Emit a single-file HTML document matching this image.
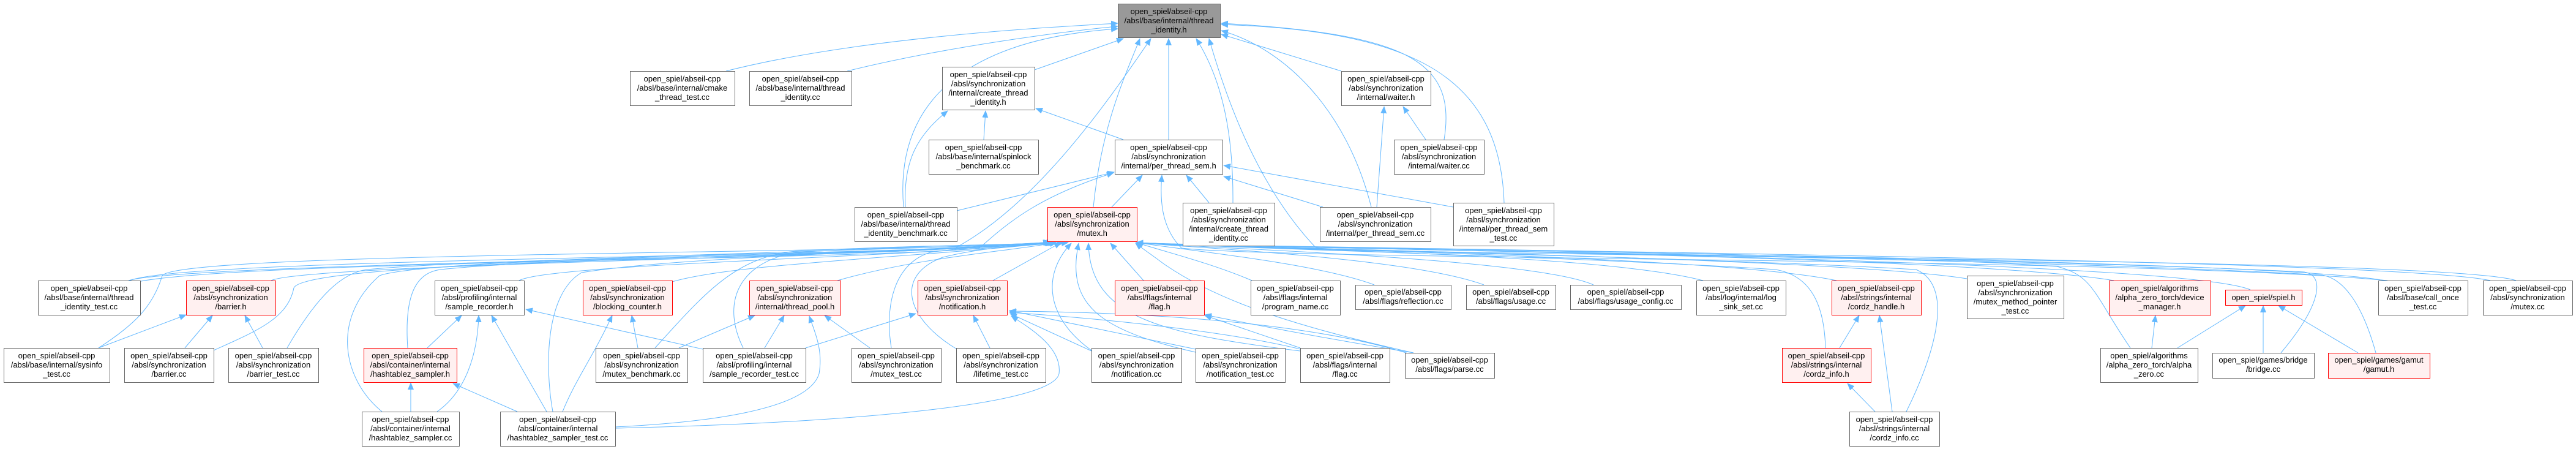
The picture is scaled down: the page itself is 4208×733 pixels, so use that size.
<!DOCTYPE html>
<html><head><meta charset="utf-8"><style>
html,body{margin:0;padding:0;background:#fff;}
svg{display:block;}
text{font-family:"Liberation Sans",Arial,sans-serif;font-size:13px;fill:#000;text-anchor:middle;}
.n{fill:#fff;stroke:#666;stroke-width:1;}
.r{fill:#fff0f0;stroke:#ff0000;stroke-width:1;}
.g{fill:#999;stroke:#666;stroke-width:1;}
.e{fill:none;stroke:#63b8ff;stroke-width:1;marker-end:url(#a);}
</style></head><body>
<svg width="4208" height="733" viewBox="0 0 4208 733" xmlns="http://www.w3.org/2000/svg">
<defs><marker id="a" markerWidth="12" markerHeight="10" refX="11" refY="5" orient="auto" markerUnits="userSpaceOnUse"><path d="M0,0 L12,5 L0,10z" fill="#63b8ff"/></marker></defs>

<!-- edges to thread_identity.h -->
<path class="e" d="M1186,116 C1400,62 1700,45 1826,38"/>
<path class="e" d="M1384,116 C1550,75 1750,50 1826,43"/>
<path class="e" d="M1476,338 C1460,150 1600,62 1826,47"/>
<path class="e" d="M1690,114 L1835,63"/>
<path class="e" d="M1786,338 C1800,200 1840,120 1862,63"/>
<path class="e" d="M1909,228 L1909,63"/>
<path class="e" d="M2014,331 C2015,200 1990,120 1954,63"/>
<path class="e" d="M2191,116 L1995,56"/>
<path class="e" d="M2359,228 C2380,100 2300,55 1995,38"/>
<path class="e" d="M2240,338 C2200,180 2100,80 1995,50"/>
<path class="e" d="M2457,331 C2450,120 2300,50 1995,40"/>
<path class="e" d="M4110,458 C4000,420 2400,420 2150,405 C2050,300 2000,150 1975,63"/>
<path class="e" d="M210,458 C300,430 1400,420 1560,405 C1700,330 1820,150 1880,63"/>
<!-- create_thread_identity.h -->
<path class="e" d="M1607,228 L1610,181"/>
<path class="e" d="M1479,338 C1475,260 1500,220 1548,181"/>
<path class="e" d="M1835,228 L1692,177"/>
<!-- per_thread_sem.h -->
<path class="e" d="M1816,338 L1866,286"/>
<path class="e" d="M1563,344 L1820,281"/>
<path class="e" d="M1975,331 L1938,286"/>
<path class="e" d="M2161,338 L1999,288"/>
<path class="e" d="M2374,338 L1999,270"/>
<path class="e" d="M3900,458 C3500,420 2100,425 1930,405 C1895,370 1895,320 1898,286"/>
<path class="e" d="M225,460 C400,425 1400,425 1600,405 C1650,360 1700,320 1819,282"/>
<!-- waiter.h -->
<path class="e" d="M2329,228 L2292,174"/>
<path class="e" d="M2249,338 L2261,174"/>
<!-- mutex.h -->
<path class="e" d="M212,458 C300,420 1500,420 1715,395"/>
<path class="e" d="M161,568 C220,530 250,500 265,450 C290,410 1500,415 1716,395"/>
<path class="e" d="M443,458 C500,430 1500,420 1717,395"/>
<path class="e" d="M349,572 C420,540 470,520 480,470 C500,420 1500,420 1718,396"/>
<path class="e" d="M469,568 C520,480 560,445 600,440 C800,420 1500,415 1719,396"/>
<path class="e" d="M848,458 C900,430 1500,420 1720,396"/>
<path class="e" d="M666,568 C660,480 680,445 720,440 C900,420 1500,415 1720,396"/>
<path class="e" d="M624,672 C560,620 540,520 620,450 C700,420 1500,410 1721,395"/>
<path class="e" d="M903,672 C890,600 890,480 950,445 C1100,420 1500,410 1722,395"/>
<path class="e" d="M1098,460 C1200,430 1500,420 1723,396"/>
<path class="e" d="M1070,568 C1150,480 1200,420 1300,410 C1500,400 1650,400 1724,396"/>
<path class="e" d="M1368,458 C1500,420 1650,410 1726,396"/>
<path class="e" d="M1214,568 C1180,500 1200,430 1300,412 C1500,400 1650,400 1726,396"/>
<path class="e" d="M1622,458 L1733,396"/>
<path class="e" d="M1456,568 C1445,500 1460,430 1520,412 C1600,400 1700,400 1738,396"/>
<path class="e" d="M1563,570 C1480,520 1460,450 1540,420 C1620,400 1700,400 1745,396"/>
<path class="e" d="M1868,458 L1814,397"/>
<path class="e" d="M1783,572 C1710,520 1700,450 1750,397"/>
<path class="e" d="M1953,575 C1800,540 1740,500 1762,397"/>
<path class="e" d="M2124,573 C1900,545 1780,520 1778,397"/>
<path class="e" d="M2309,576 C2150,540 2000,500 1900,430 C1880,415 1865,405 1855,397"/>
<path class="e" d="M2045,458 C1980,430 1900,410 1856,396"/>
<path class="e" d="M2245,465 C2150,430 1950,410 1856,396"/>
<path class="e" d="M2424,465 C2300,420 1950,405 1856,396"/>
<path class="e" d="M2603,465 C2500,420 1950,405 1856,396"/>
<path class="e" d="M2782,458 C2600,410 1950,405 1856,396"/>
<path class="e" d="M3000,458 C2800,415 1950,405 1856,396"/>
<path class="e" d="M2982,568 C2980,500 2960,450 2900,440 C2600,420 2000,405 1856,396"/>
<path class="e" d="M3114,672 C3150,600 3200,470 3130,440 C2800,420 2000,405 1856,396"/>
<path class="e" d="M3213,455 C3000,420 2000,405 1856,396"/>
<path class="e" d="M3453,458 C3200,415 2000,405 1856,396"/>
<path class="e" d="M3676,473 C3550,420 2000,405 1856,396"/>
<path class="e" d="M3480,568 C3420,480 3420,450 3360,435 C3000,410 2000,405 1856,396"/>
<path class="e" d="M3726,576 C3790,500 3800,450 3764,444 C3300,420 2000,405 1856,396"/>
<path class="e" d="M3881,576 C3860,500 3830,455 3793,449 C3300,420 2000,405 1856,396"/>
<path class="e" d="M3895,458 C3700,420 2000,405 1856,396"/>
<path class="e" d="M4068,458 C3900,420 2000,405 1856,396"/>
<!-- barrier.h -->
<path class="e" d="M161,568 L304,514"/>
<path class="e" d="M302,568 L347,515"/>
<path class="e" d="M429,568 L400,515"/>
<!-- sample_recorder.h -->
<path class="e" d="M698,568 L754,515"/>
<path class="e" d="M714,672 C760,640 780,580 782,515"/>
<path class="e" d="M893,672 L803,515"/>
<path class="e" d="M1148,570 L859,505"/>
<!-- hashtablez_sampler.h -->
<path class="e" d="M671,672 L671,625"/>
<path class="e" d="M845,672 L740,626"/>
<!-- blocking_counter.h -->
<path class="e" d="M1042,568 L1032,515"/>
<path class="e" d="M919,672 C940,620 970,580 1000,515"/>
<!-- thread_pool.h -->
<path class="e" d="M1109,568 L1233,515"/>
<path class="e" d="M1249,568 L1281,515"/>
<path class="e" d="M1421,568 L1347,515"/>
<path class="e" d="M1005,697 C1150,690 1320,670 1338,610 C1345,570 1330,540 1322,516"/>
<!-- notification.h -->
<path class="e" d="M1316,568 L1496,512"/>
<path class="e" d="M1617,568 L1590,515"/>
<path class="e" d="M1783,573 L1650,512"/>
<path class="e" d="M1953,570 L1649,507"/>
<path class="e" d="M1005,699 C1400,690 1720,660 1730,610 C1735,570 1690,540 1652,516"/>
<path class="e" d="M2124,570 C2000,540 1800,520 1649,510"/>
<path class="e" d="M2300,577 C2150,530 1900,510 1649,508"/>
<!-- flag.h -->
<path class="e" d="M2124,568 L1968,515"/>
<path class="e" d="M2309,576 C2150,550 2050,530 1968,514"/>
<!-- cordz -->
<path class="e" d="M3005,568 L3037,515"/>
<path class="e" d="M3091,672 L3070,515"/>
<path class="e" d="M3063,672 L3018,626"/>
<!-- device_manager / spiel.h -->
<path class="e" d="M3515,568 L3521,515"/>
<path class="e" d="M3557,568 L3668,499"/>
<path class="e" d="M3697,576 L3697,499"/>
<path class="e" d="M3852,576 L3722,499"/>

<!-- nodes -->
<rect class="g" x="1826.5" y="6.5" width="167" height="55"/><text><tspan x="1909.5" y="23">open_spiel/abseil-cpp</tspan><tspan x="1909.5" y="38">/absl/base/internal/thread</tspan><tspan x="1909.5" y="53">_identity.h</tspan></text>

<rect class="n" x="1029.5" y="116.5" width="171" height="56"/><text><tspan x="1114.5" y="133">open_spiel/abseil-cpp</tspan><tspan x="1114.5" y="148">/absl/base/internal/cmake</tspan><tspan x="1114.5" y="163">_thread_test.cc</tspan></text>
<rect class="n" x="1224.5" y="116.5" width="167" height="56"/><text><tspan x="1307.5" y="133">open_spiel/abseil-cpp</tspan><tspan x="1307.5" y="148">/absl/base/internal/thread</tspan><tspan x="1307.5" y="163">_identity.cc</tspan></text>
<rect class="n" x="1539.5" y="109.5" width="151" height="70"/><text><tspan x="1614.5" y="126">open_spiel/abseil-cpp</tspan><tspan x="1614.5" y="141">/absl/synchronization</tspan><tspan x="1614.5" y="156">/internal/create_thread</tspan><tspan x="1614.5" y="171">_identity.h</tspan></text>
<rect class="n" x="2191.5" y="116.5" width="146" height="56"/><text><tspan x="2264" y="133">open_spiel/abseil-cpp</tspan><tspan x="2264" y="148">/absl/synchronization</tspan><tspan x="2264" y="163">/internal/waiter.h</tspan></text>

<rect class="n" x="1517.5" y="228.5" width="179" height="56"/><text><tspan x="1606.5" y="245">open_spiel/abseil-cpp</tspan><tspan x="1606.5" y="260">/absl/base/internal/spinlock</tspan><tspan x="1606.5" y="275">_benchmark.cc</tspan></text>
<rect class="n" x="1821.5" y="228.5" width="176" height="56"/><text><tspan x="1909" y="245">open_spiel/abseil-cpp</tspan><tspan x="1909" y="260">/absl/synchronization</tspan><tspan x="1909" y="275">/internal/per_thread_sem.h</tspan></text>
<rect class="n" x="2277.5" y="228.5" width="147" height="56"/><text><tspan x="2350.5" y="245">open_spiel/abseil-cpp</tspan><tspan x="2350.5" y="260">/absl/synchronization</tspan><tspan x="2350.5" y="275">/internal/waiter.cc</tspan></text>

<rect class="n" x="1396.5" y="338.5" width="167" height="56"/><text><tspan x="1479.5" y="355">open_spiel/abseil-cpp</tspan><tspan x="1479.5" y="370">/absl/base/internal/thread</tspan><tspan x="1479.5" y="385">_identity_benchmark.cc</tspan></text>
<rect class="r" x="1711.5" y="338.5" width="146" height="56"/><text><tspan x="1784" y="355">open_spiel/abseil-cpp</tspan><tspan x="1784" y="370">/absl/synchronization</tspan><tspan x="1784" y="385">/mutex.h</tspan></text>
<rect class="n" x="1932.5" y="331.5" width="150" height="70"/><text><tspan x="2007" y="348">open_spiel/abseil-cpp</tspan><tspan x="2007" y="363">/absl/synchronization</tspan><tspan x="2007" y="378">/internal/create_thread</tspan><tspan x="2007" y="393">_identity.cc</tspan></text>
<rect class="n" x="2156.5" y="338.5" width="181" height="56"/><text><tspan x="2246.5" y="355">open_spiel/abseil-cpp</tspan><tspan x="2246.5" y="370">/absl/synchronization</tspan><tspan x="2246.5" y="385">/internal/per_thread_sem.cc</tspan></text>
<rect class="n" x="2374.5" y="331.5" width="164" height="70"/><text><tspan x="2456" y="348">open_spiel/abseil-cpp</tspan><tspan x="2456" y="363">/absl/synchronization</tspan><tspan x="2456" y="378">/internal/per_thread_sem</tspan><tspan x="2456" y="393">_test.cc</tspan></text>

<!-- row 5 -->
<rect class="n" x="62.5" y="458.5" width="167" height="56"/><text><tspan x="145.5" y="475">open_spiel/abseil-cpp</tspan><tspan x="145.5" y="490">/absl/base/internal/thread</tspan><tspan x="145.5" y="505">_identity_test.cc</tspan></text>
<rect class="r" x="304.5" y="458.5" width="146" height="56"/><text><tspan x="377" y="475">open_spiel/abseil-cpp</tspan><tspan x="377" y="490">/absl/synchronization</tspan><tspan x="377" y="505">/barrier.h</tspan></text>
<rect class="n" x="710.5" y="458.5" width="146" height="56"/><text><tspan x="783" y="475">open_spiel/abseil-cpp</tspan><tspan x="783" y="490">/absl/profiling/internal</tspan><tspan x="783" y="505">/sample_recorder.h</tspan></text>
<rect class="r" x="952.5" y="458.5" width="146" height="56"/><text><tspan x="1025" y="475">open_spiel/abseil-cpp</tspan><tspan x="1025" y="490">/absl/synchronization</tspan><tspan x="1025" y="505">/blocking_counter.h</tspan></text>
<rect class="r" x="1224.5" y="458.5" width="149" height="56"/><text><tspan x="1298.5" y="475">open_spiel/abseil-cpp</tspan><tspan x="1298.5" y="490">/absl/synchronization</tspan><tspan x="1298.5" y="505">/internal/thread_pool.h</tspan></text>
<rect class="r" x="1499.5" y="458.5" width="146" height="56"/><text><tspan x="1572" y="475">open_spiel/abseil-cpp</tspan><tspan x="1572" y="490">/absl/synchronization</tspan><tspan x="1572" y="505">/notification.h</tspan></text>
<rect class="r" x="1821.5" y="458.5" width="146" height="56"/><text><tspan x="1894" y="475">open_spiel/abseil-cpp</tspan><tspan x="1894" y="490">/absl/flags/internal</tspan><tspan x="1894" y="505">/flag.h</tspan></text>
<rect class="n" x="2043.5" y="458.5" width="146" height="56"/><text><tspan x="2116" y="475">open_spiel/abseil-cpp</tspan><tspan x="2116" y="490">/absl/flags/internal</tspan><tspan x="2116" y="505">/program_name.cc</tspan></text>
<rect class="n" x="2214.5" y="465.5" width="156" height="40"/><text><tspan x="2292" y="481">open_spiel/abseil-cpp</tspan><tspan x="2292" y="496">/absl/flags/reflection.cc</tspan></text>
<rect class="n" x="2395.5" y="465.5" width="146" height="40"/><text><tspan x="2468" y="481">open_spiel/abseil-cpp</tspan><tspan x="2468" y="496">/absl/flags/usage.cc</tspan></text>
<rect class="n" x="2565.5" y="465.5" width="181" height="40"/><text><tspan x="2655.5" y="481">open_spiel/abseil-cpp</tspan><tspan x="2655.5" y="496">/absl/flags/usage_config.cc</tspan></text>
<rect class="n" x="2771.5" y="458.5" width="146" height="56"/><text><tspan x="2844" y="475">open_spiel/abseil-cpp</tspan><tspan x="2844" y="490">/absl/log/internal/log</tspan><tspan x="2844" y="505">_sink_set.cc</tspan></text>
<rect class="r" x="2992.5" y="458.5" width="146" height="56"/><text><tspan x="3065" y="475">open_spiel/abseil-cpp</tspan><tspan x="3065" y="490">/absl/strings/internal</tspan><tspan x="3065" y="505">/cordz_handle.h</tspan></text>
<rect class="n" x="3213.5" y="450.5" width="158" height="70"/><text><tspan x="3292" y="467">open_spiel/abseil-cpp</tspan><tspan x="3292" y="482">/absl/synchronization</tspan><tspan x="3292" y="497">/mutex_method_pointer</tspan><tspan x="3292" y="512">_test.cc</tspan></text>
<rect class="r" x="3445.5" y="458.5" width="166" height="56"/><text><tspan x="3528" y="475">open_spiel/algorithms</tspan><tspan x="3528" y="490">/alpha_zero_torch/device</tspan><tspan x="3528" y="505">_manager.h</tspan></text>
<rect class="r" x="3635.5" y="473.5" width="125" height="25"/><text><tspan x="3697.5" y="490">open_spiel/spiel.h</tspan></text>
<rect class="n" x="3885.5" y="458.5" width="146" height="56"/><text><tspan x="3958" y="475">open_spiel/abseil-cpp</tspan><tspan x="3958" y="490">/absl/base/call_once</tspan><tspan x="3958" y="505">_test.cc</tspan></text>
<rect class="n" x="4056.5" y="458.5" width="146" height="56"/><text><tspan x="4129" y="475">open_spiel/abseil-cpp</tspan><tspan x="4129" y="490">/absl/synchronization</tspan><tspan x="4129" y="505">/mutex.cc</tspan></text>

<!-- row 6 -->
<rect class="n" x="6.5" y="568.5" width="173" height="56"/><text><tspan x="92.5" y="585">open_spiel/abseil-cpp</tspan><tspan x="92.5" y="600">/absl/base/internal/sysinfo</tspan><tspan x="92.5" y="615">_test.cc</tspan></text>
<rect class="n" x="203.5" y="568.5" width="146" height="56"/><text><tspan x="276" y="585">open_spiel/abseil-cpp</tspan><tspan x="276" y="600">/absl/synchronization</tspan><tspan x="276" y="615">/barrier.cc</tspan></text>
<rect class="n" x="373.5" y="568.5" width="147" height="56"/><text><tspan x="446.5" y="585">open_spiel/abseil-cpp</tspan><tspan x="446.5" y="600">/absl/synchronization</tspan><tspan x="446.5" y="615">/barrier_test.cc</tspan></text>
<rect class="r" x="594.5" y="568.5" width="152" height="56"/><text><tspan x="670" y="585">open_spiel/abseil-cpp</tspan><tspan x="670" y="600">/absl/container/internal</tspan><tspan x="670" y="615">/hashtablez_sampler.h</tspan></text>
<rect class="n" x="973.5" y="568.5" width="150" height="56"/><text><tspan x="1048" y="585">open_spiel/abseil-cpp</tspan><tspan x="1048" y="600">/absl/synchronization</tspan><tspan x="1048" y="615">/mutex_benchmark.cc</tspan></text>
<rect class="n" x="1148.5" y="568.5" width="168" height="56"/><text><tspan x="1232" y="585">open_spiel/abseil-cpp</tspan><tspan x="1232" y="600">/absl/profiling/internal</tspan><tspan x="1232" y="615">/sample_recorder_test.cc</tspan></text>
<rect class="n" x="1391.5" y="568.5" width="146" height="56"/><text><tspan x="1464" y="585">open_spiel/abseil-cpp</tspan><tspan x="1464" y="600">/absl/synchronization</tspan><tspan x="1464" y="615">/mutex_test.cc</tspan></text>
<rect class="n" x="1562.5" y="568.5" width="146" height="56"/><text><tspan x="1635" y="585">open_spiel/abseil-cpp</tspan><tspan x="1635" y="600">/absl/synchronization</tspan><tspan x="1635" y="615">/lifetime_test.cc</tspan></text>
<rect class="n" x="1783.5" y="568.5" width="147" height="56"/><text><tspan x="1856.5" y="585">open_spiel/abseil-cpp</tspan><tspan x="1856.5" y="600">/absl/synchronization</tspan><tspan x="1856.5" y="615">/notification.cc</tspan></text>
<rect class="n" x="1953.5" y="568.5" width="146" height="56"/><text><tspan x="2026" y="585">open_spiel/abseil-cpp</tspan><tspan x="2026" y="600">/absl/synchronization</tspan><tspan x="2026" y="615">/notification_test.cc</tspan></text>
<rect class="n" x="2124.5" y="568.5" width="146" height="56"/><text><tspan x="2197" y="585">open_spiel/abseil-cpp</tspan><tspan x="2197" y="600">/absl/flags/internal</tspan><tspan x="2197" y="615">/flag.cc</tspan></text>
<rect class="n" x="2295.5" y="576.5" width="146" height="41"/><text><tspan x="2368" y="592">open_spiel/abseil-cpp</tspan><tspan x="2368" y="607">/absl/flags/parse.cc</tspan></text>
<rect class="r" x="2911.5" y="568.5" width="145" height="56"/><text><tspan x="2983.5" y="585">open_spiel/abseil-cpp</tspan><tspan x="2983.5" y="600">/absl/strings/internal</tspan><tspan x="2983.5" y="615">/cordz_info.h</tspan></text>
<rect class="n" x="3431.5" y="568.5" width="159" height="56"/><text><tspan x="3510.5" y="585">open_spiel/algorithms</tspan><tspan x="3510.5" y="600">/alpha_zero_torch/alpha</tspan><tspan x="3510.5" y="615">_zero.cc</tspan></text>
<rect class="n" x="3614.5" y="576.5" width="166" height="41"/><text><tspan x="3697" y="592">open_spiel/games/bridge</tspan><tspan x="3697" y="607">/bridge.cc</tspan></text>
<rect class="r" x="3803.5" y="576.5" width="166" height="41"/><text><tspan x="3886" y="592">open_spiel/games/gamut</tspan><tspan x="3886" y="607">/gamut.h</tspan></text>

<!-- row 7 -->
<rect class="n" x="591.5" y="672.5" width="159" height="56"/><text><tspan x="670.5" y="689">open_spiel/abseil-cpp</tspan><tspan x="670.5" y="704">/absl/container/internal</tspan><tspan x="670.5" y="719">/hashtablez_sampler.cc</tspan></text>
<rect class="n" x="817.5" y="672.5" width="188" height="56"/><text><tspan x="911" y="689">open_spiel/abseil-cpp</tspan><tspan x="911" y="704">/absl/container/internal</tspan><tspan x="911" y="719">/hashtablez_sampler_test.cc</tspan></text>
<rect class="n" x="3021.5" y="672.5" width="147" height="56"/><text><tspan x="3094.5" y="689">open_spiel/abseil-cpp</tspan><tspan x="3094.5" y="704">/absl/strings/internal</tspan><tspan x="3094.5" y="719">/cordz_info.cc</tspan></text>
</svg>
</body></html>
